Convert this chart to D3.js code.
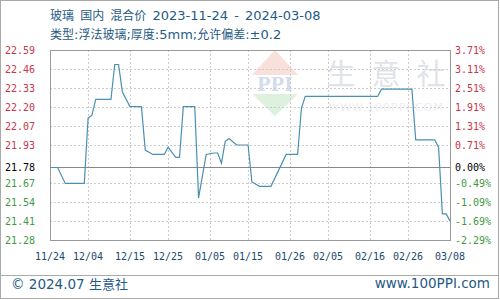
<!DOCTYPE html>
<html>
<head>
<meta charset="utf-8">
<script src="https://cdn.jsdelivr.net/npm/d3@7"></script>
<style>
  body { margin: 0; background: #fff; }
  svg { display: block; }
</style>
</head>
<body>
<script>
var width = 500;
var height = 300;

var dates = ['2023-11-24', '2023-11-26', '2023-11-28', '2023-12-03', '2023-12-04', '2023-12-05',
    '2023-12-06', '2023-12-10', '2023-12-11', '2023-12-12', '2023-12-13', '2023-12-15',
    '2023-12-18', '2023-12-19', '2023-12-21', '2023-12-24', '2023-12-25', '2023-12-27',
    '2023-12-28', '2023-12-29', '2024-01-01', '2024-01-02', '2024-01-04', '2024-01-06',
    '2024-01-07', '2024-01-08', '2024-01-09', '2024-01-10', '2024-01-12', '2024-01-15',
    '2024-01-16', '2024-01-18', '2024-01-21', '2024-01-25', '2024-01-28', '2024-01-29',
    '2024-01-30', '2024-02-18', '2024-02-19', '2024-02-27', '2024-02-28', '2024-03-04',
    '2024-03-05', '2024-03-06', '2024-03-07', '2024-03-08'];
var prices = [21.78, 21.78, 21.67, 21.67, 22.12, 22.14,
    22.25, 22.25, 22.49, 22.49, 22.30, 22.20,
    22.20, 21.90, 21.87, 21.87, 21.92, 21.85,
    21.85, 22.20, 22.20, 21.57, 21.87, 21.88,
    21.88, 21.81, 21.96, 21.98, 21.935, 21.935,
    21.68, 21.65, 21.65, 21.87, 21.87, 22.19,
    22.27, 22.27, 22.32, 22.32, 21.97, 21.97,
    21.92, 21.46, 21.46, 21.41];

var leftTicks = [22.59, 22.46, 22.33, 22.20, 22.07, 21.93, 21.78, 21.67, 21.54, 21.41, 21.28];
var rightTicks = ['3.71%', '3.11%', '2.51%', '1.91%', '1.31%', '0.71%', '0.00%', '-0.49%', '-1.09%', '-1.69%', '-2.29%'];
var xTicks = ['2023-11-24', '2023-12-04', '2023-12-15', '2023-12-25', '2024-01-05', '2024-01-15',
    '2024-01-26', '2024-02-05', '2024-02-16', '2024-02-26', '2024-03-08'];
var baseValue = 21.78;
var yMax = 22.59;
var yMin = 21.28;

var parse = d3.timeParse('%Y-%m-%d');
var fmt = d3.timeFormat('%m/%d');
var data = dates.map(function (d, i) { return { date: parse(d), value: prices[i] }; });

var plotLeft = 50, plotRight = 450, plotTop = 50, plotBottom = 240;

var svg = d3.select('body').append('svg')
    .attr('width', width)
    .attr('height', height);

// outer frame
svg.append('rect')
    .attr('x', 0.5).attr('y', 0.5)
    .attr('width', width - 2).attr('height', height - 2)
    .attr('fill', '#fff')
    .attr('stroke', '#aaa');

var x = d3.scaleTime()
    .domain([parse(xTicks[0]), parse(xTicks[xTicks.length - 1])])
    .range([plotLeft, plotRight]);

var y = d3.scaleLinear()
    .domain([yMin, yMax])
    .range([plotBottom, plotTop]);

// grid positions are evenly spaced, except the base line sits at its value
var gridY = d3.scaleLinear()
    .domain([0, leftTicks.length - 1])
    .range([plotTop, plotBottom]);

function tickY(i) {
    return leftTicks[i] === baseValue ? y(baseValue) : gridY(i);
}

// text with latin and chinese parts in different sizes
function mixedText(sel, str, latinSize, cjkSize) {
    var runs = str.match(/[\u4e00-\u9fff]+|[^\u4e00-\u9fff]+/g);
    runs.forEach(function (r) {
        var cjk = /[\u4e00-\u9fff]/.test(r);
        sel.append('tspan')
            .style('font-family', cjk ? '"Noto Sans CJK SC", sans-serif' : '"DejaVu Sans", sans-serif')
            .style('font-size', (cjk ? cjkSize : latinSize) + 'px')
            .text(r);
    });
    return sel;
}

// watermark
var wm = svg.append('g');
wm.append('path')
    .attr('d', 'M275,50 L298,75 L252,75 Z')
    .attr('fill', '#f9e0da');
wm.append('path')
    .attr('d', 'M252,94 L298,94 L275,116 Z')
    .attr('fill', '#def0de');
wm.append('text')
    .attr('x', 275).attr('y', 91)
    .attr('text-anchor', 'middle')
    .style('font-family', '"Liberation Serif", serif')
    .style('font-weight', 'bold')
    .style('font-size', '22px')
    .attr('fill', '#d3dcea')
    .text('PPI');
var wmChars = ['生', '意', '社'];
wm.selectAll('.wmchar')
    .data(wmChars)
    .enter()
    .append('text')
    .attr('class', 'wmchar')
    .attr('x', function (d, i) { return 341 + i * 45; })
    .attr('y', 85)
    .attr('text-anchor', 'middle')
    .style('font-family', '"Noto Sans CJK SC", sans-serif')
    .style('font-size', '29px')
    .attr('fill', '#e0e3e9')
    .text(function (d) { return d; });
wm.append('text')
    .attr('x', 386).attr('y', 111)
    .attr('text-anchor', 'middle')
    .style('font-family', '"DejaVu Sans", sans-serif')
    .style('font-size', '11px')
    .style('letter-spacing', '1px')
    .attr('fill', '#eceef2')
    .text('WWW.100PPI.COM');

// horizontal grid
svg.selectAll('.hgrid')
    .data(leftTicks.filter(function (v, i) { return i > 0 && i < leftTicks.length - 1 && v !== baseValue; }))
    .enter()
    .append('line')
    .attr('class', 'hgrid')
    .attr('x1', plotLeft).attr('x2', plotRight)
    .attr('y1', function (d) { return Math.round(gridY(leftTicks.indexOf(d))) + 0.5; })
    .attr('y2', function (d) { return Math.round(gridY(leftTicks.indexOf(d))) + 0.5; })
    .attr('stroke', '#ccc')
    .attr('stroke-dasharray', '2,2');

// vertical grid
svg.selectAll('.vgrid')
    .data(xTicks.slice(1, -1))
    .enter()
    .append('line')
    .attr('class', 'vgrid')
    .attr('x1', function (d) { return Math.round(x(parse(d))) + 0.5; })
    .attr('x2', function (d) { return Math.round(x(parse(d))) + 0.5; })
    .attr('y1', plotTop).attr('y2', plotBottom)
    .attr('stroke', '#ccc')
    .attr('stroke-dasharray', '2,2');

// base line
svg.append('line')
    .attr('x1', plotLeft).attr('x2', plotRight)
    .attr('y1', Math.round(y(baseValue)) + 0.5)
    .attr('y2', Math.round(y(baseValue)) + 0.5)
    .attr('stroke', '#888');

// plot frame
svg.append('rect')
    .attr('x', plotLeft + 0.5).attr('y', plotTop + 0.5)
    .attr('width', plotRight - plotLeft).attr('height', plotBottom - plotTop)
    .attr('fill', 'none')
    .attr('stroke', '#999');

// price line
var line = d3.line()
    .x(function (d) { return x(d.date); })
    .y(function (d) { return y(d.value); });

svg.append('path')
    .datum(data)
    .attr('d', line)
    .attr('fill', 'none')
    .attr('stroke', '#4b8fb3')
    .attr('stroke-width', 1.2);

function tickColor(i) {
    if (leftTicks[i] > baseValue) return '#c8364a';
    if (leftTicks[i] < baseValue) return '#3f9a3f';
    return '#000';
}

var mono = '"DejaVu Sans Mono", monospace';

svg.selectAll('.ylab')
    .data(leftTicks)
    .enter()
    .append('text')
    .attr('class', 'ylab')
    .attr('x', 35)
    .attr('y', function (d, i) { return tickY(i) + 3.5; })
    .attr('text-anchor', 'end')
    .style('font-family', mono)
    .style('font-size', '10px')
    .attr('fill', function (d, i) { return tickColor(i); })
    .text(function (d) { return d.toFixed(2); });

svg.selectAll('.ylab2')
    .data(rightTicks)
    .enter()
    .append('text')
    .attr('class', 'ylab2')
    .attr('x', 455)
    .attr('y', function (d, i) { return tickY(i) + 3.5; })
    .style('font-family', mono)
    .style('font-size', '10px')
    .attr('fill', function (d, i) { return tickColor(i); })
    .text(function (d) { return d; });

svg.selectAll('.xlab')
    .data(xTicks)
    .enter()
    .append('text')
    .attr('class', 'xlab')
    .attr('x', function (d) { return x(parse(d)); })
    .attr('y', 260)
    .attr('text-anchor', 'middle')
    .style('font-family', mono)
    .style('font-size', '10px')
    .attr('fill', '#1d4a6e')
    .text(function (d) { return fmt(parse(d)); });

// titles
var titleColor = '#1f5a85';
mixedText(svg.append('text')
    .attr('x', 50).attr('y', 20)
    .style('word-spacing', '2px')
    .attr('fill', titleColor), '玻璃 国内 混合价 2023-11-24 - 2024-03-08', 13, 12);
mixedText(svg.append('text')
    .attr('x', 50).attr('y', 39)
    .attr('fill', titleColor), '类型:浮法玻璃;厚度:5mm;允许偏差:±0.2', 13, 12);

// footer
svg.append('line')
    .attr('x1', 1).attr('x2', width - 2)
    .attr('y1', 275.5).attr('y2', 275.5)
    .attr('stroke', '#aaa');
mixedText(svg.append('text')
    .attr('x', 11).attr('y', 289)
    .attr('fill', titleColor), '© 2024.07 生意社', 13.5, 13);
svg.append('text')
    .attr('x', 490).attr('y', 288)
    .attr('text-anchor', 'end')
    .style('font-family', '"DejaVu Sans", sans-serif')
    .style('font-size', '13.5px')
    .attr('fill', titleColor)
    .text('www.100PPI.com');
</script>
</body>
</html>
